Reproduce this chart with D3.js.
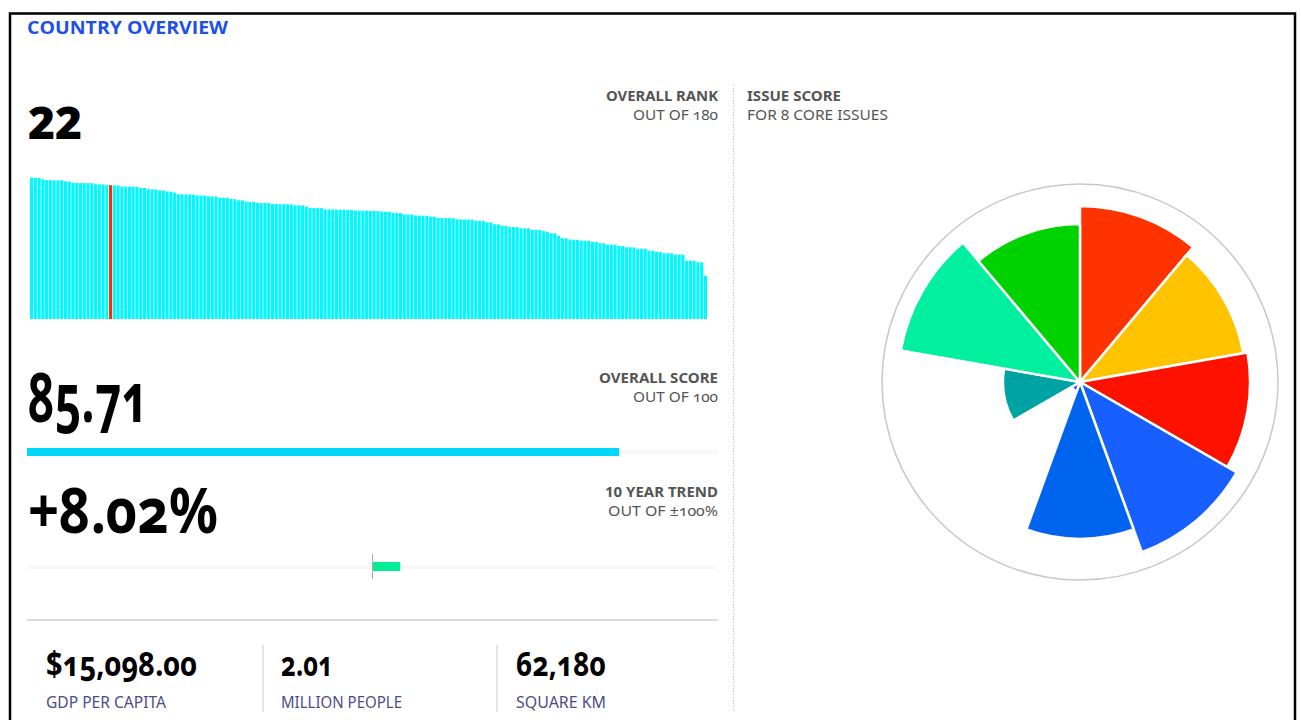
<!DOCTYPE html>
<html>
<head>
<meta charset="utf-8">
<script src="https://cdn.jsdelivr.net/npm/d3@7"></script>
<style>
  html, body { margin: 0; padding: 0; background: #fff; }
  svg { display: block; }
  .num { font-family: "Noto Sans", "Open Sans", sans-serif; font-weight: 700; font-variant-numeric: oldstyle-nums; font-feature-settings: "onum" 1; }
  .lab { font-family: "Noto Sans", "Open Sans", sans-serif; }
</style>
</head>
<body>
<svg id="chart" width="1301" height="720"></svg>
<script>
// ---------- DATA ----------
const rankScores = [
  90.68, 90.51, 90.43,
  89.6,
  89.0, 88.95, 88.9, 88.85, 88.8,
  88.2, 88.1,
  87.3, 87.25, 87.2, 87.15, 87.1, 87.05,
  86.4, 86.3, 86.25,
  85.8, 85.71, 85.65, 85.6,
  84.9, 84.85, 84.8, 84.75, 84.7,
  84.0, 83.95,
  83.2, 83.1, 83.05,
  82.5, 82.4,
  81.7, 81.6,
  81.0,
  79.95, 79.9, 79.85, 79.8, 79.75,
  79.2, 79.15, 79.1,
  78.6, 78.55, 78.5,
  77.8, 77.75, 77.7,
  76.9, 76.85,
  76.1, 76.05,
  75.2, 75.15, 75.1,
  74.4, 74.35, 74.3, 74.25,
  73.7, 73.65, 73.6, 73.55, 73.5, 73.45,
  72.9, 72.85, 72.8,
  72.0,
  71.2, 71.15, 71.1, 71.05,
  70.3, 70.25, 70.2, 70.15, 70.1, 70.05, 70.0, 69.95,
  69.5, 69.45, 69.4, 69.35, 69.3, 69.25, 69.2,
  68.8, 68.75, 68.7,
  68.0, 67.95, 67.9,
  67.1, 67.05, 67.0,
  66.3, 66.25, 66.2, 66.15,
  65.6, 65.55,
  64.8, 64.75, 64.7, 64.65, 64.6,
  63.9, 63.85, 63.8, 63.75, 63.7,
  63.0, 62.95, 62.9,
  62.0, 61.95,
  60.7, 60.65,
  59.8, 59.75,
  59.0, 58.95, 58.9,
  58.2, 58.15, 58.1,
  57.2, 57.15, 57.1,
  56.4,
  55.8,
  55.0, 54.95,
  53.2,
  51.8, 51.75,
  50.9, 50.85, 50.8,
  50.2, 50.15, 50.1,
  49.4, 49.35,
  48.6, 48.55,
  47.7, 47.65, 47.6,
  46.8, 46.75,
  46.0, 45.95, 45.9,
  45.1, 45.05, 45.0,
  43.8, 43.75,
  43.0, 42.95,
  42.2, 42.15, 42.1,
  41.3, 41.25, 41.2,
  37.4, 37.35, 37.3,
  36.4, 36.35,
  27.66
];
const countryRank = 22;
const overallScore = 85.71;
const trendPct = 8.02;

const issueNames = ["Health Impacts", "Air Quality", "Water and Sanitation", "Water Resources",
  "Agriculture", "Forests", "Fisheries", "Biodiversity and Habitat", "Climate and Energy"];
const issueScores = [88.9, 83.8, 85.9, 91.4, 79.3, 5.0, 38.9, 91.9, 79.8];
const issueColors = ["#ff3300", "#ffc300", "#ff1100", "#1760ff", "#0064ee", "#1760ff", "#00a3a3", "#00f0a0", "#00d200"];

const statValues = ["$15,098.00", "2.01", "62,180"];
const statLabels = ["GDP PER CAPITA", "MILLION PEOPLE", "SQUARE KM"];

// ---------- DRAW ----------
const svg = d3.select("#chart");

// frame
svg.append("rect").attr("x", 10).attr("y", 13.5).attr("width", 1285).attr("height", 740)
  .attr("fill", "none").attr("stroke", "#000").attr("stroke-width", 2.5);

// title
svg.append("text").attr("x", 27).attr("y", 34)
  .attr("font-family", "'Open Sans', 'Noto Sans', sans-serif").attr("font-weight", 700)
  .attr("font-size", 18).attr("fill", "#2050e6")
  .attr("textLength", 201).attr("lengthAdjust", "spacingAndGlyphs")
  .text("COUNTRY OVERVIEW");

// helper for two-line labels
function labelPair(x, y, bold, normal, w1, w2, anchor) {
  svg.append("text").attr("class", "lab").attr("x", x).attr("y", y)
    .attr("text-anchor", anchor).attr("font-size", 14).attr("font-weight", 700).attr("fill", "#555")
    .attr("textLength", w1).attr("lengthAdjust", "spacingAndGlyphs").text(bold);
  svg.append("text").attr("class", "lab").attr("x", x).attr("y", y + 19)
    .attr("text-anchor", anchor).attr("font-size", 14).attr("font-weight", 400).attr("fill", "#555")
    .style("font-variant-numeric", "oldstyle-nums")
    .attr("textLength", w2).attr("lengthAdjust", "spacingAndGlyphs").text(normal);
}
labelPair(718, 101, "OVERALL RANK", "OUT OF 180", 112, 85, "end");
labelPair(718, 383, "OVERALL SCORE", "OUT OF 100", 119, 85, "end");
labelPair(718, 497, "10 YEAR TREND", "OUT OF ±100%", 113, 110, "end");
labelPair(747, 101, "ISSUE SCORE", "FOR 8 CORE ISSUES", 94, 141, "start");

// rank number
svg.append("text").attr("x", 28).attr("y", 139)
  .attr("font-family", "'Open Sans', 'Noto Sans', sans-serif").attr("font-weight", 800)
  .attr("font-size", 44).attr("fill", "#000")
  .attr("textLength", 54).attr("lengthAdjust", "spacingAndGlyphs")
  .text(String(countryRank));

// rank bars
const xb = d3.scaleBand().domain(d3.range(rankScores.length)).range([30, 707]).paddingInner(0.18);
const yb = d3.scaleLinear().domain([0, 100]).range([319, 163]);
svg.append("g").selectAll("rect").data(rankScores).join("rect")
  .attr("x", (d, i) => xb(i)).attr("width", xb.bandwidth())
  .attr("y", d => yb(d)).attr("height", d => yb(0) - yb(d))
  .attr("fill", (d, i) => i === countryRank - 1 ? "#ff2a00" : "#00f8ff");

// overall score
svg.append("text").attr("class", "num").attr("x", 28).attr("y", 422)
  .attr("font-size", 68).attr("fill", "#000")
  .attr("textLength", 120).attr("lengthAdjust", "spacingAndGlyphs")
  .text(overallScore.toFixed(2));
const xs = d3.scaleLinear().domain([0, 100]).range([27, 718]);
svg.append("rect").attr("x", xs(0)).attr("y", 450).attr("width", xs(100) - xs(0)).attr("height", 4).attr("fill", "#f8f8f8");
svg.append("rect").attr("x", xs(0)).attr("y", 448).attr("width", xs(overallScore) - xs(0)).attr("height", 8).attr("fill", "#00d6f7");

// trend
svg.append("text").attr("class", "num").attr("x", 28).attr("y", 533)
  .attr("font-size", 62).attr("fill", "#000")
  .attr("textLength", 190).attr("lengthAdjust", "spacingAndGlyphs")
  .text("+" + trendPct.toFixed(2) + "%");
const xt = d3.scaleLinear().domain([-100, 100]).range([27, 718]);
svg.append("rect").attr("x", xt(-100)).attr("y", 565).attr("width", xt(100) - xt(-100)).attr("height", 4).attr("fill", "#f8f8f8");
svg.append("rect").attr("x", xt(0)).attr("y", 562).attr("width", xt(trendPct) - xt(0)).attr("height", 9).attr("fill", "#00ee96");
svg.append("line").attr("x1", xt(0)).attr("x2", xt(0)).attr("y1", 554).attr("y2", 579)
  .attr("stroke", "#aaa").attr("stroke-width", 1);

// separator
svg.append("line").attr("x1", 27).attr("x2", 718).attr("y1", 620).attr("y2", 620)
  .attr("stroke", "#ddd").attr("stroke-width", 2);

// dotted vertical divider
svg.append("line").attr("x1", 733.5).attr("x2", 733.5).attr("y1", 85).attr("y2", 712)
  .attr("stroke", "#bbb").attr("stroke-width", 1).attr("stroke-dasharray", "1,2");

// stats
const statX = [46, 281, 516];
const statW = [151, 52, 90];
const labW = [120, 121, 90];
statValues.forEach((v, i) => {
  svg.append("text").attr("class", "num").attr("x", statX[i]).attr("y", 676)
    .attr("font-size", 34).attr("fill", "#000")
    .attr("textLength", statW[i]).attr("lengthAdjust", "spacingAndGlyphs").text(v);
  svg.append("text").attr("class", "lab").attr("x", statX[i]).attr("y", 708)
    .attr("font-size", 16).attr("fill", "#4c4c8c")
    .attr("textLength", labW[i]).attr("lengthAdjust", "spacingAndGlyphs").text(statLabels[i]);
});
[263, 497].forEach(x => {
  svg.append("line").attr("x1", x).attr("x2", x).attr("y1", 645).attr("y2", 712)
    .attr("stroke", "#ddd").attr("stroke-width", 1.5);
});

// polar chart
const cx = 1080, cy = 382, R = 198;
const g = svg.append("g").attr("transform", `translate(${cx},${cy})`);
g.append("circle").attr("r", R).attr("fill", "none").attr("stroke", "#c8c8c8").attr("stroke-width", 1.5);
const ang = d3.scaleBand().domain(issueNames).range([0, 2 * Math.PI]);
const rr = d3.scaleLinear().domain([0, 100]).range([0, R]);
const arc = d3.arc().innerRadius(0)
  .outerRadius((d, i) => rr(issueScores[i]))
  .startAngle((d) => ang(d))
  .endAngle((d) => ang(d) + ang.bandwidth());
g.selectAll("path").data(issueNames).join("path")
  .attr("d", (d, i) => arc(d, i))
  .attr("fill", (d, i) => issueColors[i])
  .attr("stroke", "#fff").attr("stroke-width", 2.5).attr("stroke-linejoin", "miter");
</script>
</body>
</html>
